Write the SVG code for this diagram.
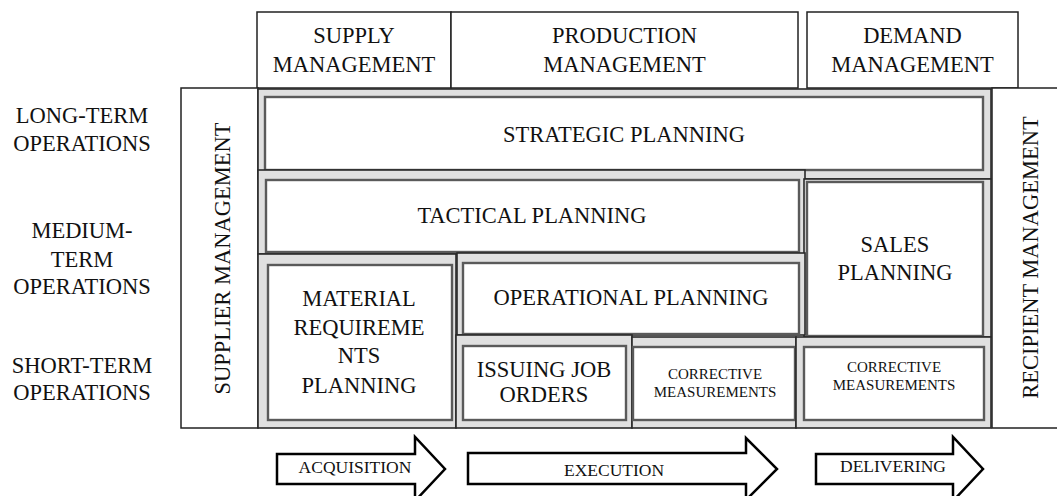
<svg xmlns="http://www.w3.org/2000/svg" width="1057" height="496" viewBox="0 0 1057 496">
<style>
text{font-family:"Liberation Serif","Times New Roman",serif;fill:#111;text-anchor:middle}
.t{font-size:22.5px}
.s{font-size:15px}
.a{font-size:17.5px}
.hdr{fill:#fff;stroke:#222;stroke-width:1.5}
.out{fill:#e0e0e0;stroke:#2a2a2a;stroke-width:1.6}
.in{fill:#fff;stroke:#5a5a5a;stroke-width:2.4}
.arr{fill:#fff;stroke:#000;stroke-width:2.5;stroke-linejoin:miter}
</style>
<rect width="1057" height="496" fill="#fff"/>
<g id="headers">
<g id="supply-management"><rect class="hdr" x="257" y="12" width="194" height="76"/><text class="t" x="354" y="43">SUPPLY</text><text class="t" x="354" y="72">MANAGEMENT</text></g>
<g id="production-management"><rect class="hdr" x="451" y="12" width="347" height="76"/><text class="t" x="624.5" y="43">PRODUCTION</text><text class="t" x="624.5" y="72">MANAGEMENT</text></g>
<g id="demand-management"><rect class="hdr" x="807" y="12" width="211" height="76"/><text class="t" x="912.5" y="43">DEMAND</text><text class="t" x="912.5" y="72">MANAGEMENT</text></g>
</g>
<g id="row-labels">
<g id="long-term"><text class="t" x="82" y="123">LONG-TERM</text><text class="t" x="82" y="151">OPERATIONS</text></g>
<g id="medium-term"><text class="t" x="82" y="238">MEDIUM-</text><text class="t" x="82" y="267">TERM</text><text class="t" x="82" y="294">OPERATIONS</text></g>
<g id="short-term"><text class="t" x="82" y="373">SHORT-TERM</text><text class="t" x="82" y="400">OPERATIONS</text></g>
</g>
<g id="supplier-management"><rect class="hdr" x="181" y="88" width="77" height="340"/><text class="t" transform="translate(230,258.5) rotate(-90)">SUPPLIER MANAGEMENT</text></g>
<g id="recipient-management"><path d="M1058,88 H992 V428 H1058" fill="#fff" stroke="#222" stroke-width="1.5"/><text class="t" transform="translate(1038,257.5) rotate(-90)">RECIPIENT MANAGEMENT</text></g>
<g id="strategic-planning"><rect class="out" x="258" y="89" width="733" height="90"/><rect class="in" x="265" y="97" width="718" height="73"/><text class="t" x="624" y="142">STRATEGIC PLANNING</text></g>
<g id="tactical-planning"><rect class="out" x="258" y="170" width="547" height="84"/><rect class="in" x="266" y="180" width="533" height="72"/><text class="t" x="532" y="223">TACTICAL PLANNING</text></g>
<g id="sales-planning"><rect class="out" x="804" y="179" width="187" height="158"/><rect class="in" x="807" y="182" width="176" height="154"/><text class="t" x="895" y="252">SALES</text><text class="t" x="895" y="280">PLANNING</text></g>
<g id="material-requirements-planning"><rect class="out" x="258" y="254" width="198" height="174"/><rect class="in" x="268" y="265" width="184" height="155"/><text class="t" x="359" y="306">MATERIAL</text><text class="t" x="359" y="335">REQUIREME</text><text class="t" x="359" y="363">NTS</text><text class="t" x="359" y="393">PLANNING</text></g>
<g id="operational-planning"><rect class="out" x="457" y="253" width="348" height="82"/><rect class="in" x="463" y="263" width="336" height="71"/><text class="t" x="631" y="305">OPERATIONAL PLANNING</text></g>
<g id="issuing-job-orders"><rect class="out" x="456" y="335" width="176" height="93"/><rect class="in" x="463" y="346" width="163" height="74"/><text class="t" x="544" y="377">ISSUING JOB</text><text class="t" x="544" y="402">ORDERS</text></g>
<g id="corrective-measurements-production"><rect class="out" x="632" y="337" width="164" height="91"/><rect class="in" x="633" y="347" width="162" height="73"/><text class="s" x="715" y="379">CORRECTIVE</text><text class="s" x="715" y="397">MEASUREMENTS</text></g>
<g id="corrective-measurements-demand"><rect class="out" x="796" y="337" width="195" height="91"/><rect class="in" x="804" y="347" width="180" height="73"/><text class="s" x="894" y="372">CORRECTIVE</text><text class="s" x="894" y="390">MEASUREMENTS</text></g>
<g id="flow-arrows">
<g id="acquisition"><polygon class="arr" points="277,454 415,454 415,437 445,469 415,501 415,484 277,484"/><text class="a" x="355" y="473">ACQUISITION</text></g>
<g id="execution"><polygon class="arr" points="468,453 746,453 746,438 777,469 746,500 746,484 468,484"/><text class="a" x="614" y="476">EXECUTION</text></g>
<g id="delivering"><polygon class="arr" points="816,454 953,454 953,437 983,469 953,501 953,484 816,484"/><text class="a" x="893" y="472">DELIVERING</text></g>
</g>
</svg>
